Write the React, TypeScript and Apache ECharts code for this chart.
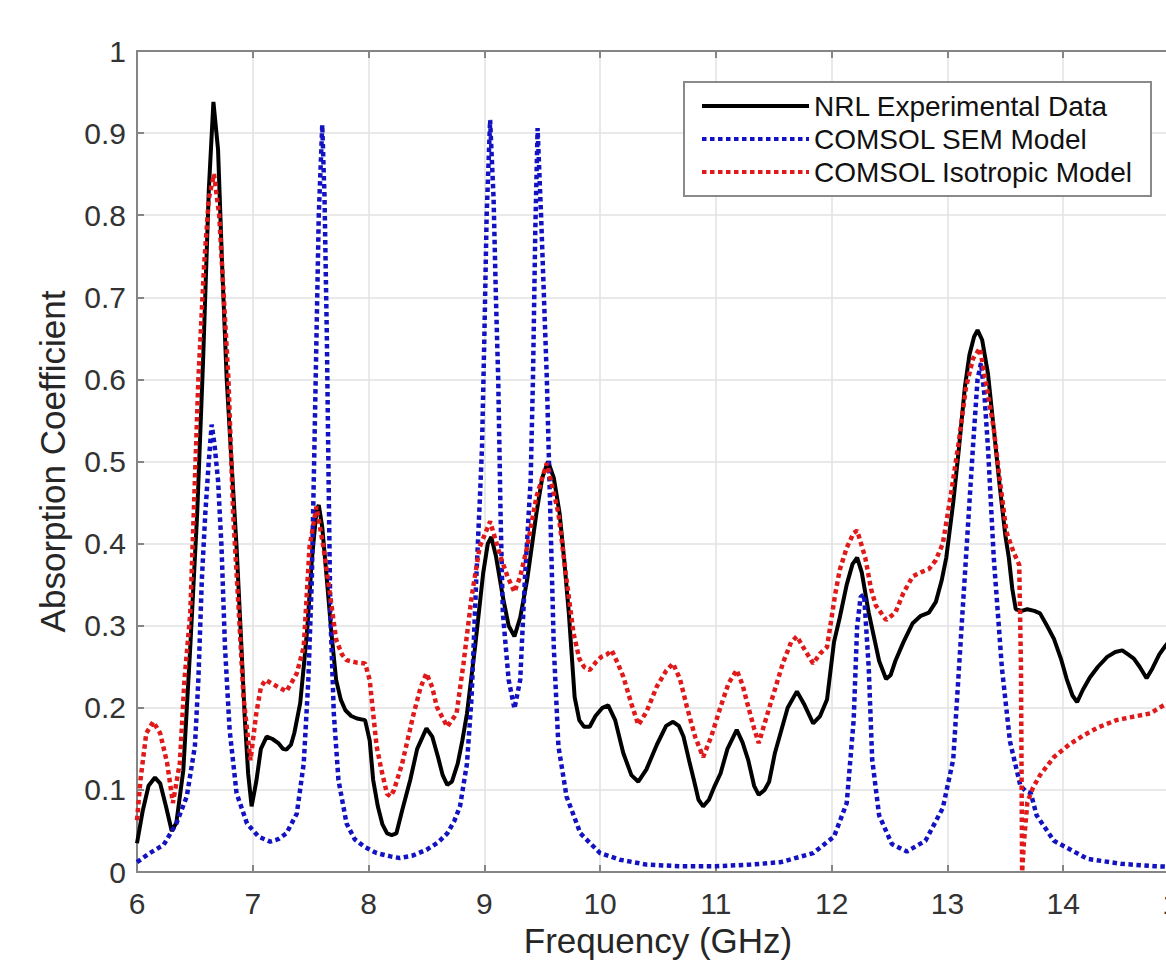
import React, { useEffect, useRef } from "react";
import * as echarts from "echarts";

// ---- Data ----
const xTicks = [6, 7, 8, 9, 10, 11, 12, 13, 14, 15];
const yTicks = [0, 0.1, 0.2, 0.3, 0.4, 0.5, 0.6, 0.7, 0.8, 0.9, 1];

const seriesNames = ["NRL Experimental Data", "COMSOL SEM Model", "COMSOL Isotropic Model"];

const nrlFreq = [
  6.0, 6.05, 6.1, 6.155, 6.2, 6.25, 6.3, 6.34, 6.4, 6.46, 6.52, 6.57, 6.62, 6.66, 6.7, 6.735, 6.775, 6.82, 6.86, 6.9,
  6.93, 6.96, 6.99, 7.03, 7.07, 7.12, 7.17, 7.22, 7.26, 7.29, 7.33, 7.36, 7.41, 7.44, 7.47, 7.51, 7.55, 7.57, 7.6, 7.64,
  7.68, 7.72, 7.76, 7.8, 7.85, 7.9, 7.97, 8.01, 8.04, 8.08, 8.12, 8.16, 8.2, 8.24, 8.29, 8.36, 8.42, 8.5, 8.55, 8.6,
  8.64, 8.68, 8.72, 8.77, 8.81, 8.85, 8.92, 8.99, 9.03, 9.06, 9.1, 9.16, 9.21, 9.26, 9.31, 9.37, 9.45, 9.5, 9.55, 9.6,
  9.65, 9.69, 9.73, 9.78, 9.82, 9.86, 9.91, 9.96, 10.02, 10.07, 10.13, 10.2, 10.27, 10.33, 10.4, 10.49, 10.57, 10.63,
  10.68, 10.72, 10.77, 10.81, 10.85, 10.89, 10.94, 10.99, 11.04, 11.1, 11.18, 11.23, 11.28, 11.33, 11.37, 11.42, 11.46,
  11.51, 11.55, 11.62, 11.7, 11.76, 11.84, 11.9, 11.96, 12.02, 12.07, 12.13, 12.18, 12.22, 12.26, 12.32, 12.41, 12.47,
  12.51, 12.55, 12.62, 12.7, 12.77, 12.84, 12.9, 12.95, 12.99, 13.05, 13.1, 13.15, 13.19, 13.23, 13.26, 13.3, 13.35,
  13.4, 13.45, 13.5, 13.53, 13.56, 13.59, 13.64, 13.69, 13.75, 13.8, 13.86, 13.92, 13.98, 14.03, 14.08, 14.12, 14.17,
  14.23, 14.3, 14.38, 14.45, 14.51, 14.56, 14.61, 14.66, 14.72, 14.77, 14.83, 14.88, 14.94, 15.0,
];
const nrlAbs = [
  0.035, 0.075, 0.105, 0.115, 0.108, 0.08, 0.05, 0.06, 0.124, 0.274, 0.437, 0.62, 0.83, 0.938, 0.88, 0.74, 0.6, 0.49,
  0.396, 0.28, 0.19, 0.12, 0.08, 0.11, 0.15, 0.165, 0.162, 0.157, 0.15, 0.149, 0.155, 0.17, 0.206, 0.25, 0.295, 0.38,
  0.44, 0.447, 0.42, 0.356, 0.29, 0.234, 0.21, 0.197, 0.19, 0.187, 0.185, 0.16, 0.112, 0.08, 0.058, 0.047, 0.045, 0.047,
  0.075, 0.112, 0.15, 0.175, 0.165, 0.14, 0.118, 0.106, 0.11, 0.132, 0.16, 0.193, 0.274, 0.364, 0.4, 0.408, 0.385,
  0.335, 0.3, 0.287, 0.31, 0.356, 0.437, 0.48, 0.5, 0.48, 0.437, 0.38, 0.315, 0.213, 0.185, 0.177, 0.177, 0.19, 0.2,
  0.203, 0.185, 0.145, 0.118, 0.11, 0.125, 0.155, 0.178, 0.183, 0.178, 0.165, 0.135, 0.112, 0.088, 0.08, 0.088, 0.105,
  0.12, 0.15, 0.173, 0.158, 0.136, 0.105, 0.094, 0.1, 0.11, 0.145, 0.165, 0.2, 0.22, 0.205, 0.181, 0.19, 0.21, 0.28,
  0.31, 0.35, 0.375, 0.383, 0.365, 0.316, 0.257, 0.235, 0.24, 0.257, 0.28, 0.303, 0.312, 0.316, 0.329, 0.355, 0.383,
  0.45, 0.517, 0.59, 0.63, 0.652, 0.66, 0.648, 0.607, 0.54, 0.472, 0.41, 0.383, 0.345, 0.32, 0.318, 0.32, 0.318, 0.315,
  0.3, 0.284, 0.26, 0.235, 0.215, 0.207, 0.222, 0.237, 0.25, 0.262, 0.268, 0.27, 0.265, 0.26, 0.25, 0.236, 0.248, 0.265,
  0.275, 0.285, 0.292,
];

const semFreq = [
  6.0, 6.11, 6.23, 6.34, 6.43, 6.5, 6.53, 6.56, 6.59, 6.62, 6.645, 6.67, 6.7, 6.73, 6.76, 6.8, 6.86, 6.95, 7.05, 7.15,
  7.22, 7.29, 7.38, 7.44, 7.48, 7.51, 7.53, 7.55, 7.57, 7.6, 7.62, 7.64, 7.655, 7.67, 7.7, 7.74, 7.81, 7.88, 7.96, 8.07,
  8.19, 8.27, 8.38, 8.5, 8.6, 8.68, 8.74, 8.79, 8.85, 8.89, 8.93, 8.96, 8.98, 9.0, 9.02, 9.05, 9.08, 9.1, 9.12, 9.14,
  9.16, 9.21, 9.26, 9.31, 9.35, 9.4, 9.42, 9.44, 9.46, 9.49, 9.52, 9.54, 9.57, 9.6, 9.64, 9.71, 9.83, 10.0, 10.17, 10.4,
  10.7, 11.0, 11.3, 11.56, 11.84, 12.02, 12.13, 12.19, 12.22, 12.25, 12.28, 12.32, 12.35, 12.41, 12.52, 12.65, 12.81,
  12.96, 13.05, 13.1, 13.16, 13.22, 13.26, 13.29, 13.32, 13.35, 13.4, 13.47, 13.54, 13.63, 13.68, 13.72, 13.77, 13.92,
  14.21, 14.5, 14.79, 15.0,
];
const semAbs = [
  0.012, 0.023, 0.033, 0.059, 0.092, 0.153, 0.234, 0.356, 0.437, 0.5, 0.545, 0.52, 0.477, 0.396, 0.274, 0.173, 0.096,
  0.059, 0.043, 0.037, 0.04, 0.047, 0.071, 0.132, 0.234, 0.356, 0.5, 0.65, 0.8, 0.91, 0.82, 0.65, 0.477, 0.315, 0.193,
  0.112, 0.059, 0.04, 0.031, 0.023, 0.019, 0.017, 0.02, 0.027, 0.036, 0.047, 0.062, 0.08, 0.132, 0.213, 0.356, 0.45,
  0.518, 0.65, 0.8, 0.916, 0.82, 0.7, 0.6, 0.437, 0.315, 0.234, 0.199, 0.234, 0.356, 0.477, 0.6, 0.78, 0.906, 0.8, 0.68,
  0.6, 0.437, 0.274, 0.153, 0.092, 0.047, 0.023, 0.015, 0.009, 0.007, 0.007, 0.009, 0.012, 0.023, 0.043, 0.084, 0.185,
  0.299, 0.335, 0.338, 0.249, 0.137, 0.069, 0.034, 0.025, 0.038, 0.078, 0.137, 0.249, 0.383, 0.517, 0.6, 0.62, 0.58,
  0.517, 0.383, 0.249, 0.159, 0.105, 0.098, 0.096, 0.069, 0.038, 0.016, 0.01, 0.007, 0.006,
];

const isoFreq = [
  6.0, 6.03, 6.08, 6.14, 6.2, 6.26, 6.31, 6.37, 6.41, 6.46, 6.5, 6.53, 6.58, 6.62, 6.665, 6.71, 6.75, 6.79, 6.83, 6.88,
  6.92, 6.98, 7.03, 7.07, 7.11, 7.16, 7.21, 7.29, 7.34, 7.38, 7.44, 7.49, 7.55, 7.61, 7.67, 7.72, 7.77, 7.81, 7.9, 7.97,
  8.01, 8.04, 8.07, 8.11, 8.16, 8.19, 8.22, 8.29, 8.39, 8.45, 8.5, 8.55, 8.59, 8.68, 8.76, 8.82, 8.89, 8.96, 9.05, 9.14,
  9.2, 9.26, 9.31, 9.37, 9.45, 9.54, 9.64, 9.71, 9.77, 9.82, 9.86, 9.91, 9.96, 10.01, 10.06, 10.1, 10.15, 10.2, 10.27,
  10.33, 10.4, 10.49, 10.57, 10.63, 10.69, 10.75, 10.82, 10.89, 10.96, 11.04, 11.11, 11.18, 11.23, 11.28, 11.33, 11.37,
  11.44, 11.5, 11.58, 11.65, 11.7, 11.77, 11.84, 11.9, 11.96, 12.03, 12.07, 12.13, 12.19, 12.22, 12.29, 12.34, 12.38,
  12.47, 12.55, 12.62, 12.7, 12.77, 12.84, 12.9, 12.96, 13.03, 13.1, 13.16, 13.22, 13.28, 13.34, 13.4, 13.45, 13.51,
  13.57, 13.62, 13.635, 13.645, 13.66, 13.69, 13.74, 13.8, 13.92, 14.05, 14.17, 14.3, 14.46, 14.6, 14.75, 14.89, 15.0,
];
const isoAbs = [
  0.063, 0.112, 0.169, 0.183, 0.169, 0.133, 0.084, 0.133, 0.234, 0.315, 0.477, 0.6, 0.74, 0.82, 0.85, 0.8, 0.7, 0.6,
  0.437, 0.315, 0.213, 0.136, 0.193, 0.225, 0.234, 0.23, 0.226, 0.22, 0.232, 0.242, 0.274, 0.396, 0.445, 0.396, 0.335,
  0.283, 0.265, 0.258, 0.255, 0.254, 0.234, 0.193, 0.153, 0.125, 0.095, 0.092, 0.1, 0.132, 0.193, 0.225, 0.242, 0.225,
  0.201, 0.177, 0.193, 0.254, 0.335, 0.396, 0.427, 0.384, 0.36, 0.341, 0.36, 0.396, 0.457, 0.498, 0.437, 0.356, 0.291,
  0.26, 0.25, 0.246, 0.255, 0.262, 0.265, 0.27, 0.255, 0.238, 0.205, 0.179, 0.195, 0.226, 0.245, 0.254, 0.235, 0.201,
  0.165, 0.14, 0.165, 0.201, 0.23, 0.246, 0.228, 0.201, 0.175, 0.157, 0.19, 0.218, 0.255, 0.28, 0.287, 0.27, 0.254,
  0.266, 0.274, 0.338, 0.368, 0.395, 0.413, 0.416, 0.383, 0.345, 0.325, 0.307, 0.316, 0.34, 0.36, 0.365, 0.369, 0.38,
  0.4, 0.46, 0.526, 0.59, 0.625, 0.638, 0.59, 0.54, 0.48, 0.414, 0.39, 0.374, 0.25, 0.0, 0.035, 0.085, 0.103, 0.118,
  0.14, 0.155, 0.166, 0.176, 0.185, 0.189, 0.193, 0.205, 0.212,
];

const toPairs = (xs: number[], ys: number[]) => xs.map((x, i) => [x, ys[i]]);

const FONT = "'Liberation Sans', Arial, Helvetica, sans-serif";
const AXIS_COLOR = "#858585";
const GRID_COLOR = "#e2e2e2";
const BLUE = "#1212c2";
const RED = "#e01a1a";

export default function App() {
  const ref = useRef<HTMLDivElement>(null);

  useEffect(() => {
    if (!ref.current) return;
    const chart = echarts.init(ref.current, undefined, { renderer: "svg" });
    const axisLine = { show: true, onZero: false, lineStyle: { color: AXIS_COLOR, width: 2 } };
    const axisTick = { show: true, inside: true, length: 7, lineStyle: { color: AXIS_COLOR, width: 2 } };
    chart.setOption({
      animation: false,
      backgroundColor: "#ffffff",
      textStyle: { fontFamily: FONT },
      grid: { left: 137, top: 51, right: 21, bottom: 96, containLabel: false },
      legend: {
        orient: "vertical",
        left: 684,
        top: 82,
        itemWidth: 107,
        itemHeight: 14,
        itemGap: 5,
        padding: [10, 18, 10, 16],
        borderColor: "#8a8a8a",
        borderWidth: 2,
        backgroundColor: "#ffffff",
        itemStyle: { opacity: 0, borderWidth: 0 },
        lineStyle: { width: 4 },
        textStyle: { fontSize: 28, color: "#111", fontFamily: FONT, lineHeight: 28 },
        data: seriesNames,
      },
      xAxis: [
        {
          type: "value",
          min: xTicks[0],
          max: xTicks[xTicks.length - 1],
          interval: 1,
          position: "bottom",
          name: "Frequency (GHz)",
          nameLocation: "middle",
          nameGap: 51,
          nameTextStyle: { fontSize: 35, color: "#262626", fontFamily: FONT },
          axisLine,
          axisTick,
          axisLabel: { fontSize: 30, color: "#333", margin: 16, fontFamily: FONT },
          splitLine: { show: true, lineStyle: { color: GRID_COLOR, width: 1.5 } },
        },
        {
          type: "value",
          min: xTicks[0],
          max: xTicks[xTicks.length - 1],
          interval: 1,
          position: "top",
          axisLine,
          axisTick,
          axisLabel: { show: false },
          splitLine: { show: false },
        },
      ],
      yAxis: [
        {
          type: "value",
          min: yTicks[0],
          max: yTicks[yTicks.length - 1],
          interval: 0.1,
          name: "Absorption Coefficient",
          nameLocation: "middle",
          nameGap: 67,
          nameRotate: 90,
          nameTextStyle: { fontSize: 35, color: "#262626", fontFamily: FONT },
          axisLine,
          axisTick,
          axisLabel: {
            fontSize: 30,
            color: "#333",
            margin: 11,
            fontFamily: FONT,
            formatter: (v: number) => String(Math.round(v * 10) / 10),
          },
          splitLine: { show: true, lineStyle: { color: GRID_COLOR, width: 1.5 } },
        },
      ],
      series: [
        {
          name: seriesNames[0],
          type: "line",
          data: toPairs(nrlFreq, nrlAbs),
          symbol: "none",
          showSymbol: false,
          lineStyle: { color: "#000000", width: 4 },
          itemStyle: { color: "#000000" },
          z: 2,
        },
        {
          name: seriesNames[1],
          type: "line",
          data: toPairs(semFreq, semAbs),
          symbol: "none",
          showSymbol: false,
          lineStyle: { color: BLUE, width: 4.5, type: [4.5, 3.5] },
          itemStyle: { color: BLUE },
          z: 3,
        },
        {
          name: seriesNames[2],
          type: "line",
          data: toPairs(isoFreq, isoAbs),
          symbol: "none",
          showSymbol: false,
          lineStyle: { color: RED, width: 4.5, type: [4.5, 3.5] },
          itemStyle: { color: RED },
          z: 4,
        },
      ],
    });
    return () => chart.dispose();
  }, []);

  return (
    <div
      style={{
        position: "absolute",
        left: 0,
        top: 0,
        width: 1166,
        height: 968,
        overflow: "hidden",
        background: "#fff",
      }}
    >
      <div ref={ref} style={{ width: 1200, height: 968 }} />
    </div>
  );
}
